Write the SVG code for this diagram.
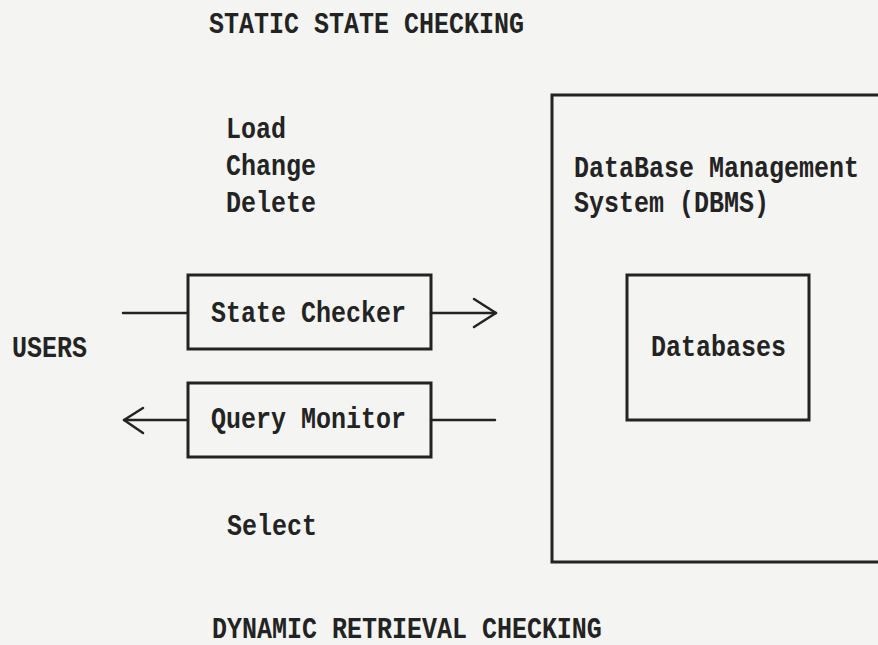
<svg xmlns="http://www.w3.org/2000/svg" width="878" height="645" viewBox="0 0 878 645">
  <style>
    .t { font-family: "Liberation Mono", "Courier New", monospace; font-size: 25px; font-weight: bold; fill: #232323; }
    .box { fill: none; stroke: #232323; stroke-width: 3; }
    .wire { fill: none; stroke: #232323; stroke-width: 2.5; stroke-linecap: round; stroke-linejoin: round; }
  </style>
  <rect width="878" height="645" fill="#f4f4f2"/>

  <!-- headings and operation lists -->
  <g id="labels">
    <text class="t" transform="translate(209,33) scale(1,1.18)">STATIC STATE CHECKING</text>
    <text class="t" transform="translate(226,138) scale(1,1.18)">Load</text>
    <text class="t" transform="translate(226,175) scale(1,1.18)">Change</text>
    <text class="t" transform="translate(226,212) scale(1,1.18)">Delete</text>
    <text class="t" transform="translate(227,535) scale(1,1.18)">Select</text>
    <text class="t" transform="translate(212,638) scale(1,1.18)">DYNAMIC RETRIEVAL CHECKING</text>
  </g>

  <g id="users">
    <text class="t" transform="translate(12,357) scale(1,1.18)">USERS</text>
  </g>

  <g id="dbms">
    <rect class="box" x="552" y="95" width="340" height="467"/>
    <text class="t" transform="translate(574,177) scale(1,1.18)">DataBase Management</text>
    <text class="t" transform="translate(574,212) scale(1,1.18)">System (DBMS)</text>
  </g>

  <g id="databases">
    <rect class="box" x="627" y="275" width="182" height="145"/>
    <text class="t" transform="translate(651,356) scale(1,1.18)">Databases</text>
  </g>

  <g id="state-checker">
    <rect class="box" x="188" y="275" width="243" height="74"/>
    <text class="t" transform="translate(211,322) scale(1,1.18)">State Checker</text>
  </g>

  <g id="query-monitor">
    <rect class="box" x="188" y="383" width="243" height="74"/>
    <text class="t" transform="translate(211,428) scale(1,1.18)">Query Monitor</text>
  </g>

  <g id="connectors">
    <!-- update path: users -> state checker -> DBMS -->
    <line class="wire" x1="123" y1="313" x2="188" y2="313"/>
    <line class="wire" x1="431" y1="313" x2="496" y2="313"/>
    <polyline class="wire" points="474,299 496,313 474,327"/>
    <!-- retrieval path: DBMS -> query monitor -> users -->
    <line class="wire" x1="431" y1="420" x2="495" y2="420"/>
    <line class="wire" x1="188" y1="420" x2="124" y2="420"/>
    <polyline class="wire" points="143,408 124,420 143,433"/>
  </g>
</svg>
